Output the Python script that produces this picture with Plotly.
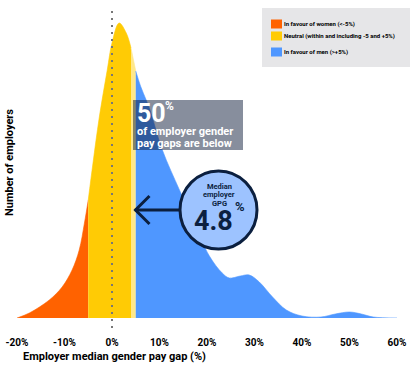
import plotly.graph_objects as go

# ---- data ----
gap_pct = [-20, -17.4, -13.2, -10.5, -8.4, -6.9, -5.8, -5, -4, -2.7, -1, 0, 1.5, 3, 4, 5,
           6, 7.2, 8, 10.6, 14.2, 17, 20.5, 23.2, 24.7, 27, 28.9, 31, 33.8, 36.7, 40, 44,
           47, 50, 52.5, 55, 60]
employers = [0, 5, 18, 31, 48, 68, 95, 118, 155, 200, 248, 275, 295, 285, 270, 247,
             232, 218, 208, 168, 128, 98, 62, 45, 40, 42, 43, 36, 21, 8, 2, 1,
             4, 6, 4, 1, 0]
tick_vals = [-20, -10, 0, 10, 20, 30, 40, 50, 60]
tick_text = ["-20%", "-10%", "0%", "10%", "20%", "30%", "40%", "50%", "60%"]
median_gpg = 4.8
legend_labels = ["In favour of women (<-5%)",
                 "Neutral (within and including -5 and +5%)",
                 "In favour of men (>+5%)"]

ORANGE = "#FF6200"
YELLOW = "#FFCB05"
PALE = "#FFE88A"
BLUE = "#4F97FF"
NAVY = "#0B1F3F"
FONT = "Roboto"

W, H = 414, 372
L, R, T, B = 17, 17, 18, 54
PW, PH = W - L - R, H - T - B


def px(x):
    return (x - L) / PW


def py(y):
    return (H - B - y) / PH


def segment(lo, hi):
    xs, ys = [], []
    for x, y in zip(gap_pct, employers):
        if lo <= x <= hi:
            xs.append(x)
            ys.append(y)
    return xs, ys


fig = go.Figure()
for (lo, hi), col in [((-100, -5), ORANGE), ((-5, 4), YELLOW), ((4, 5), PALE), ((5, 100), BLUE)]:
    xs, ys = segment(lo, hi)
    fig.add_trace(go.Scatter(x=xs, y=ys, mode="lines", fill="tozeroy", fillcolor=col,
                             line=dict(color=col, width=0.6, shape="spline", smoothing=1),
                             hoverinfo="skip", showlegend=False, cliponaxis=False))

shapes = []
# dotted zero line
shapes.append(dict(type="line", xref="x", yref="paper", x0=0, x1=0, y0=py(328), y1=py(8),
                   line=dict(color="#777777", width=2, dash="2px,5px"), layer="above"))
# 50% overlay box
shapes.append(dict(type="rect", xref="paper", yref="paper", x0=px(133), x1=px(243),
                   y0=py(150), y1=py(100), fillcolor="rgba(15,30,60,0.5)", line=dict(width=0),
                   layer="above"))
# legend box
shapes.append(dict(type="rect", xref="paper", yref="paper", x0=px(262), x1=px(410),
                   y0=py(67), y1=py(8), fillcolor="#E6E6E8", line=dict(width=0), layer="above"))
for col, cy in zip([ORANGE, YELLOW, BLUE], [24, 36, 52]):
    shapes.append(dict(type="rect", xref="paper", yref="paper", x0=px(271), x1=px(282),
                       y0=py(cy + 4.5), y1=py(cy - 4.5), fillcolor=col, line=dict(width=0),
                       layer="above"))
# arrow line to median
shapes.append(dict(type="line", xref="x", yref="paper", x0=median_gpg, x1=(181 - 112.7) / 4.75,
                   y0=py(210), y1=py(210), line=dict(color=NAVY, width=3), layer="above"))
mx = 112.7 + median_gpg * 4.75
shapes.append(dict(type="path", xref="paper", yref="paper",
                   path=f"M {px(mx + 14)} {py(196)} L {px(mx)} {py(210)} L {px(mx + 14)} {py(224)}",
                   line=dict(color=NAVY, width=3), layer="above"))
# circle
shapes.append(dict(type="circle", xref="paper", yref="paper", x0=px(180), x1=px(257),
                   y0=py(249), y1=py(171), fillcolor="#9DC3FF", line=dict(color=NAVY, width=3),
                   layer="above"))

ann = []


def text(x, y, s, size, color="black", xanchor="left", angle=0):
    ann.append(dict(xref="paper", yref="paper", x=px(x), y=py(y), text=s, showarrow=False,
                    xanchor=xanchor, yanchor="middle", textangle=angle, borderpad=0,
                    font=dict(family=FONT, size=size, color=color)))


for lab, cy in zip(legend_labels, [24, 36, 52]):
    text(283, cy, f"<b>{lab}</b>", 6)

text(136, 113, "<b>50</b>", 25, "white")
text(164, 106, "<b>%</b>", 12, "white")
text(136, 131, "<b>of employer gender</b>", 11, "white")
text(136, 143.5, "<b>pay gaps are below</b>", 11, "white")

text(219, 186, "<b>Median</b>", 7.5, NAVY, "center")
text(219, 194.5, "<b>employer</b>", 7.5, NAVY, "center")
text(219, 203, "<b>GPG</b>", 7.5, NAVY, "center")
text(213, 221, "<b>4.8</b>", 27, NAVY, "center")
text(240, 206, "<b>%</b>", 13, NAVY, "center")

text(10, 163, "<b>Number of employers</b>", 11, "black", "center", -90)
text(22, 357, "<b>Employer median gender pay gap (%)</b>", 11, "black")

fig.update_layout(
    width=W, height=H, margin=dict(l=L, r=R, t=T, b=B, autoexpand=False),
    paper_bgcolor="white", plot_bgcolor="white",
    xaxis=dict(range=[-20, 60], tickvals=tick_vals, ticktext=tick_text, showgrid=False,
               zeroline=False, showline=False, ticks="", ticklabelstandoff=17, automargin=False,
               tickfont=dict(family=FONT, size=10, color="black", weight="bold")),
    yaxis=dict(range=[0, 300], showgrid=False, zeroline=False, showline=False,
               showticklabels=False, ticks="", automargin=False),
    shapes=shapes, annotations=ann, showlegend=False,
)

fig.write_html("out.html", config={"displayModeBar": False},
               post_script="document.body.style.margin='0';")
